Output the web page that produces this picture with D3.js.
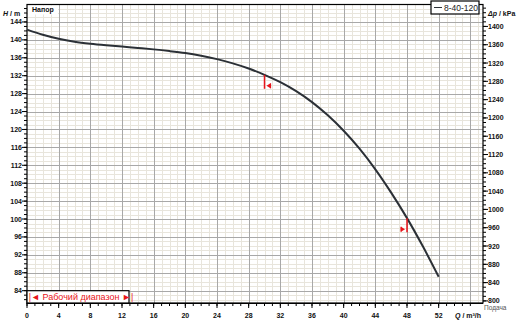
<!DOCTYPE html>
<html><head><meta charset="utf-8">
<script src="https://cdn.jsdelivr.net/npm/d3@7"></script>
<style>
html,body{margin:0;padding:0;background:#fff;}
svg{display:block;font-family:"Liberation Sans",Arial,sans-serif;}
</style></head>
<body>
<svg id="chart" width="517" height="323"></svg>
<script>
// ---- data ----
const flowQ = [0,2,4,6,8,10,12,14,16,18,20,22,24,26,28,30,32,34,36,38,40,42,44,46,48,50,52];
const headH = [142.3,141.15,140.25,139.6,139.15,138.8,138.5,138.2,137.88,137.5,137.05,136.45,135.7,134.75,133.6,132.2,130.55,128.55,126.1,123.15,119.7,115.7,111.1,105.9,100.2,93.9,87.1];
const seriesName = "8-40-120";
const rangeStartQ = 30;
const rangeEndQ = 48;
const xTickLabels = [0,4,8,12,16,20,24,28,32,36,40,44,48,52];
const yTickLabels = [84,88,92,96,100,104,108,112,116,120,124,128,132,136,140,144];
const pTickLabels = [800,840,880,920,960,1000,1040,1080,1120,1160,1200,1240,1280,1320,1360,1400];
const kPaPerMeter = 9.79;

const svg = d3.select("#chart");
const L = 27, R = 483, T = 4.5, B = 303;
const x = d3.scaleLinear().domain([0, 57.6]).range([L, R]);
const y = d3.scaleLinear().domain([81.25, 147.9]).range([B, T]);
const yp = d3.scaleLinear().domain([81.25*kPaPerMeter, 147.9*kPaPerMeter]).range([B, T]);

// grid
const g = svg.append("g");
const minorX = d3.range(1, 58, 1).filter(v => v % 4 !== 0);
const minorY = d3.range(82, 148, 1).filter(v => v % 4 !== 0);
g.selectAll(".mx").data(minorX).join("line")
  .attr("x1", d => Math.round(x(d))+0.5).attr("x2", d => Math.round(x(d))+0.5)
  .attr("y1", T).attr("y2", B).attr("stroke", "#e8e5dc").attr("stroke-width", 1);
g.selectAll(".my").data(minorY).join("line")
  .attr("y1", d => Math.round(y(d))+0.5).attr("y2", d => Math.round(y(d))+0.5)
  .attr("x1", L).attr("x2", R).attr("stroke", "#e8e5dc").attr("stroke-width", 1);
g.selectAll(".Mx").data(d3.range(4, 58, 4)).join("line")
  .attr("x1", d => Math.round(x(d))+0.5).attr("x2", d => Math.round(x(d))+0.5)
  .attr("y1", T).attr("y2", B).attr("stroke", "#a8a8a8").attr("stroke-width", 1);
g.selectAll(".My").data(yTickLabels).join("line")
  .attr("y1", d => Math.round(y(d))+0.5).attr("y2", d => Math.round(y(d))+0.5)
  .attr("x1", L).attr("x2", R).attr("stroke", "#a8a8a8").attr("stroke-width", 1);

// "Напор" label box
svg.append("rect").attr("x", L+1).attr("y", T+1).attr("width", 30).attr("height", 9).attr("fill", "#fff");
svg.append("text").attr("x", L+5).attr("y", T+7.5).attr("font-size", 7).attr("font-weight", "bold")
  .attr("fill", "#111").text("Напор");

// frame
svg.append("rect").attr("x", L).attr("y", T).attr("width", R-L).attr("height", B-T)
  .attr("fill", "none").attr("stroke", "#000").attr("stroke-width", 1.2);

// working range box
const wr = svg.append("g");
wr.append("rect").attr("x", L).attr("y", y(84)).attr("width", 102).attr("height", B - y(84))
  .attr("fill", "#fff").attr("stroke", "#000").attr("stroke-width", 1.2);
wr.append("text").attr("x", L+54).attr("y", y(84)+9).attr("text-anchor", "middle")
  .attr("font-size", 9).attr("fill", "#e8151b").text("|◄ Рабочий диапазон ►|");

// curve
const pts = flowQ.map((q,i) => [q, headH[i]]);
const line = d3.line().x(d => x(d[0])).y(d => y(d[1])).curve(d3.curveCatmullRom);
svg.append("path").datum(pts).attr("d", line).attr("fill", "none")
  .attr("stroke", "#2b3036").attr("stroke-width", 2);

// range markers
const headAt = q => { const i = flowQ.indexOf(q); return headH[i]; };
function marker(q, dir) {
  const px = x(q), py = y(headAt(q));
  const mg = svg.append("g").attr("fill", "#e8151b").attr("stroke", "#e8151b");
  mg.append("line").attr("x1", px).attr("x2", px).attr("y1", py).attr("y2", py+14).attr("stroke-width", 1.5);
  const ty = py + 11, tip = px + dir*2, base = px + dir*6;
  mg.append("path").attr("stroke", "none")
    .attr("d", `M${tip},${ty} L${base},${ty-2.5} L${base},${ty+2.5} Z`);
  mg.append("line").attr("x1", base).attr("x2", base).attr("y1", ty-2.5).attr("y2", ty+2.5).attr("stroke-width", 1.2);
}
marker(rangeStartQ, 1);
marker(rangeEndQ, -1);

// left axis
const axL = svg.append("g").attr("font-size", 7).attr("font-weight", "bold").attr("fill", "#111");
axL.selectAll("line.mi").data(d3.range(82, 148, 1)).join("line")
  .attr("x1", L-3).attr("x2", L).attr("y1", d => y(d)).attr("y2", d => y(d)).attr("stroke", "#000");
axL.selectAll("line.ma").data(yTickLabels).join("line")
  .attr("x1", L-5).attr("x2", L).attr("y1", d => y(d)).attr("y2", d => y(d)).attr("stroke", "#000");
axL.selectAll("text").data(yTickLabels).join("text")
  .attr("x", L-5).attr("y", d => y(d)+2.5).attr("text-anchor", "end").text(d => d);
svg.append("text").attr("x", 3).attr("y", 15.5).attr("font-size", 7).attr("font-weight", "bold").attr("fill", "#111")
  .html('<tspan font-style="italic">H</tspan> / m');

// right axis
const axR = svg.append("g").attr("font-size", 7).attr("font-weight", "bold").attr("fill", "#111");
axR.selectAll("line.mi").data(d3.range(800, 1450, 10)).join("line")
  .attr("x1", R).attr("x2", R+3).attr("y1", d => yp(d)).attr("y2", d => yp(d)).attr("stroke", "#000");
axR.selectAll("line.ma").data(pTickLabels).join("line")
  .attr("x1", R).attr("x2", R+5).attr("y1", d => yp(d)).attr("y2", d => yp(d)).attr("stroke", "#000");
axR.selectAll("text").data(pTickLabels).join("text")
  .attr("x", R+5).attr("y", d => yp(d)+2.5).text(d => d);
svg.append("text").attr("x", R+5).attr("y", 15.5).attr("font-size", 7).attr("font-weight", "bold").attr("fill", "#111")
  .html('<tspan font-style="italic">Δp</tspan> / kPa');

// bottom axis
const axB = svg.append("g").attr("font-size", 7).attr("font-weight", "bold").attr("fill", "#111");
axB.append("line").attr("x1", L).attr("x2", R).attr("y1", B+0.5).attr("y2", B+0.5).attr("stroke", "#000");
axB.selectAll("line.mi").data(d3.range(0, 57, 1)).join("line")
  .attr("x1", d => x(d)).attr("x2", d => x(d)).attr("y1", B).attr("y2", B+3).attr("stroke", "#000");
axB.selectAll("line.ma").data(xTickLabels).join("line")
  .attr("x1", d => x(d)).attr("x2", d => x(d)).attr("y1", B).attr("y2", B+5).attr("stroke", "#000");
axB.selectAll("text").data(xTickLabels).join("text")
  .attr("x", d => x(d)).attr("y", 318).attr("text-anchor", "middle").text(d => d);
svg.append("text").attr("x", 455).attr("y", 318).attr("font-size", 7).attr("font-weight", "bold").attr("fill", "#111")
  .html('<tspan font-style="italic">Q</tspan> / m³/h');
svg.append("text").attr("x", 484).attr("y", 310).attr("font-size", 6.5).attr("fill", "#555").text("Подача");

// legend
const lg = svg.append("g");
lg.append("rect").attr("x", 431).attr("y", 1).attr("width", 48).attr("height", 13)
  .attr("fill", "#fff").attr("stroke", "#000").attr("stroke-width", 1.2);
lg.append("line").attr("x1", 434).attr("x2", 442).attr("y1", 7.5).attr("y2", 7.5).attr("stroke", "#2b3036").attr("stroke-width", 1);
lg.append("text").attr("x", 444).attr("y", 10.5).attr("font-size", 8.5).attr("fill", "#222").text(seriesName);
</script>
</body></html>
